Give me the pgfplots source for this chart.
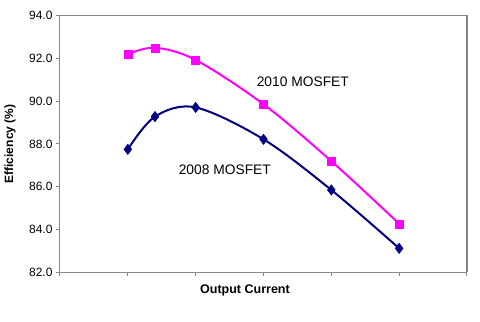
\documentclass[border=0pt]{standalone}
\usepackage{pgfplots}
\pgfplotsset{compat=1.18}
\usepackage{fontspec}
\setmainfont{Liberation Sans}
\definecolor{pinkline}{HTML}{FF00FF}
\definecolor{navyline}{HTML}{000080}
\definecolor{axgray}{HTML}{868686}
\begin{document}
\begin{tikzpicture}
\useasboundingbox (-60bp,-49.7bp) rectangle (420bp,272.3bp);
\begin{axis}[
  name=ax,
  at={(0,0)}, anchor=south west,
  scale only axis,
  width=407bp, height=256.6bp,
  xmin=0, xmax=6, ymin=82, ymax=94,
  xtick={0,1,2,3,4,5,6}, xticklabels={},
  ytick={82,84,86,88,90,92,94},
  yticklabel style={/pgf/number format/.cd, fixed, fixed zerofill, precision=1, assume math mode=true},
  ticklabel style={font=\fontsize{12bp}{14bp}\selectfont},
  tick align=outside,
  major tick length=4bp,
  xtick pos=bottom, ytick pos=left,
  axis line style={axgray, line width=1bp},
  tick style={axgray, line width=1bp},
  every axis y label/.style={at={(axis description cs:0,0.5)}, xshift=-50bp, rotate=90, anchor=center},
  every axis x label/.style={at={(axis description cs:0.4545,0)}, yshift=-17.7bp, anchor=center},
  ylabel={\fontsize{12bp}{14bp}\selectfont\bfseries Efficiency (\%)},
  xlabel={\fontsize{12.5bp}{14bp}\selectfont\bfseries Output Current},
  clip=false,
]
\addplot[pinkline, line width=2bp, smooth, tension=0.55, mark=square*, mark size=4bp, mark options={fill=pinkline, draw=pinkline, line width=0.5bp}]
  coordinates {(1,92.2) (1.4,92.5) (2,91.93) (3,89.86) (4,87.2) (5,84.27)};
\addplot[navyline, line width=2bp, smooth, tension=0.55, mark=diamond*, mark size=5.2bp, mark options={fill=navyline, draw=navyline, line width=0.5bp}]
  coordinates {(1,87.75) (1.4,89.28) (2,89.71) (3,88.22) (4,85.85) (5,83.12)};
\node[font=\fontsize{13.8bp}{16bp}\selectfont] at (axis cs:3.58,90.9) {2010 MOSFET};
\node[font=\fontsize{13.8bp}{16bp}\selectfont] at (axis cs:2.43,86.78) {2008 MOSFET};
\end{axis}
\draw[axgray, line width=1.2bp] (0,256.6bp) -- (407bp,256.6bp) -- (407bp,0);
\end{tikzpicture}
\end{document}
